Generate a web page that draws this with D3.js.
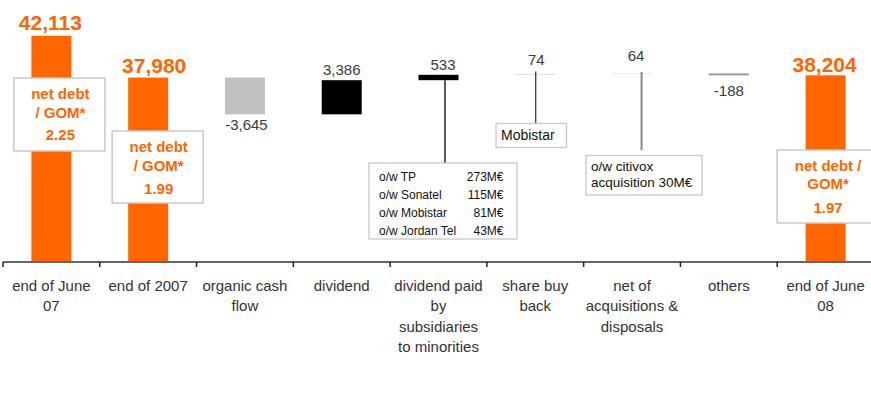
<!DOCTYPE html>
<html><head><meta charset="utf-8">
<script src="https://cdn.jsdelivr.net/npm/d3@7"></script>
<style>
html,body{margin:0;padding:0;background:#fff;}
svg{display:block;font-family:"Liberation Sans",Arial,Helvetica,sans-serif;}
</style></head>
<body><svg id="c" width="871" height="396"></svg>
<script>
// ---- data ----
const categories = ["end of June 07","end of 2007","organic cash flow","dividend",
  "dividend paid by subsidiaries to minorities","share buy back",
  "net of acquisitions & disposals","others","end of June 08"];
const categoryLines = [["end of June","07"],["end of 2007"],["organic cash","flow"],["dividend"],
  ["dividend paid","by","subsidiaries","to minorities"],["share buy","back"],
  ["net of","acquisitions &","disposals"],["others"],["end of June","08"]];
const values = [42113, 37980, -3645, 3386, 533, 74, 64, -188, 38204];
const kinds  = ["total","total","delta","delta","delta","delta","delta","delta","total"];
const valueLabels = ["42,113","37,980","-3,645","3,386","533","74","64","-188","38,204"];
const ratioLabels = ["2.25","1.99","1.97"];
const tpItems   = ["o/w TP","o/w Sonatel","o/w Mobistar","o/w Jordan Tel"];
const tpAmounts = ["273M€","115M€","81M€","43M€"];
const buybackNote = ["Mobistar"];
const acqNote = ["o/w citivox","acquisition 30M€"];

// ---- styling / layout ----
const ORANGE = "#ff6600";
const fills = ["#ff6600","#ff6600","#c0c0c0","#000000","#000000","#d8d8d8","#e0e0e0","#999999","#ff6600"];

const svg = d3.select("#c");
const x = d3.scaleBand().domain(categories).range([3, 874]).padding(0);
const y = d3.scaleLinear().domain([19700, 42200]).range([262, 35]);
const bw = 40;
const cx = i => x(categories[i]) + x.bandwidth()/2;

// waterfall extents
const bars = [];
let run = 0;
values.forEach((v,i)=>{
  if (kinds[i]==="total"){ bars.push({i, lo:y.domain()[0], hi:v}); run = v; }
  else { const s=run, e=run+v; bars.push({i, lo:Math.min(s,e), hi:Math.max(s,e)}); run = e; }
});

svg.append("g").selectAll("rect").data(bars).join("rect")
  .attr("x", b=>cx(b.i)-bw/2).attr("width", bw)
  .attr("y", b=>y(b.hi)).attr("height", b=>Math.max(0.5, y(b.lo)-y(b.hi)))
  .attr("fill", b=>fills[b.i]);

// axis
const ax = svg.append("g").attr("transform","translate(0,262)")
  .call(d3.axisBottom(x).tickSize(5).tickSizeOuter(0).tickFormat(""));
ax.select(".domain").attr("stroke","#666").attr("stroke-width",2).attr("d","M3,0H871");
ax.selectAll(".tick line").attr("x1",-x.bandwidth()/2).attr("x2",-x.bandwidth()/2)
  .attr("stroke","#222").attr("stroke-width",1.5);
ax.selectAll(".tick text").remove();

const lab = svg.append("g").attr("font-size",15).attr("fill","#333").attr("text-anchor","middle");
categoryLines.forEach((lines,i)=>{
  const t = lab.append("text").attr("x",cx(i)).attr("y",291);
  lines.forEach((l,k)=>t.append("tspan").attr("x",cx(i)).attr("dy",k?20.3:0).text(l));
});

// value labels
const labelPos = [ // [dx, anchor: 'top'|'bottom', dy]
  [-1,"top",-5.5],[6,"top",-4.7],[1.5,"bottom",16],[0,"top",-5],[4.5,"top",-4.5],
  [1,"top",-9],[4,"top",-12.5],[0,"bottom",21],[-1,"top",-3.7]];
bars.forEach(b=>{
  const i=b.i, p=labelPos[i];
  const yy = p[1]==="top" ? y(b.hi)+p[2] : y(b.lo)+p[2];
  const tot = kinds[i]==="total";
  svg.append("text").attr("x",cx(i)+p[0]).attr("y",yy).attr("text-anchor","middle")
    .attr("font-size", tot?21:15).attr("font-weight", tot?"bold":"normal")
    .attr("fill", tot?ORANGE:"#3a3a3a").text(valueLabels[i]);
});

// net debt / GOM boxes
const ratioBoxes = [
  {i:0, dx:8, top:78, w:91, h:73, lines:["net debt","/ GOM*"], base:[21,40,62]},
  {i:1, dx:9.5, top:131, w:91, h:72, lines:["net debt","/ GOM*"], base:[21,40,63]},
  {i:8, dx:1.5, top:150, w:100, h:73, lines:["net debt /","GOM*"], base:[21,39,63]}];
ratioBoxes.forEach((r,k)=>{
  const c = cx(r.i)+r.dx;
  svg.append("rect").attr("x",c-r.w/2).attr("y",r.top).attr("width",r.w).attr("height",r.h)
    .attr("fill","#fff").attr("stroke","#c8c8c8").attr("stroke-width",1.5);
  const g = svg.append("g").attr("fill",ORANGE).attr("font-weight","bold").attr("font-size",15).attr("text-anchor","middle");
  r.lines.concat([ratioLabels[k]]).forEach((t,j)=>g.append("text").attr("x",c+1).attr("y",r.top+r.base[j]).text(t));
});

// callouts
const b533 = bars[4], b74 = bars[5], b64 = bars[6];
svg.append("line").attr("x1",cx(4)+6.5).attr("x2",cx(4)+6.5).attr("y1",y(b533.lo)).attr("y2",163)
  .attr("stroke","#000").attr("stroke-width",1.3);
svg.append("rect").attr("x",369).attr("y",163).attr("width",148).attr("height",76)
  .attr("fill","#fff").attr("stroke","#c8c8c8").attr("stroke-width",1.3);
const tg = svg.append("g").attr("font-size",12).attr("fill","#111");
tpItems.forEach((t,j)=>{
  tg.append("text").attr("x",379).attr("y",181+18*j).text(t);
  tg.append("text").attr("x",503.5).attr("y",181+18*j).attr("text-anchor","end").text(tpAmounts[j]);
});

svg.append("line").attr("x1",cx(5)+0.5).attr("x2",cx(5)+0.5).attr("y1",y(b74.hi)-2.5).attr("y2",123.5)
  .attr("stroke","#000").attr("stroke-width",1);
svg.append("rect").attr("x",496).attr("y",123.5).attr("width",70.5).attr("height",24)
  .attr("fill","#fff").attr("stroke","#c8c8c8").attr("stroke-width",1.3);
svg.append("text").attr("x",501).attr("y",140).attr("font-size",14).attr("fill","#111").text(buybackNote[0]);

svg.append("line").attr("x1",cx(6)+9.5).attr("x2",cx(6)+9.5).attr("y1",y(b64.hi)-1.5).attr("y2",150)
  .attr("stroke","#888").attr("stroke-width",2);
svg.append("rect").attr("x",586).attr("y",155.5).attr("width",116).attr("height",39.5)
  .attr("fill","#fff").attr("stroke","#c8c8c8").attr("stroke-width",1.3);
acqNote.forEach((t,j)=>svg.append("text").attr("x",591).attr("y",171+16*j).attr("font-size",13.5).attr("fill","#111").text(t));
</script></body></html>
